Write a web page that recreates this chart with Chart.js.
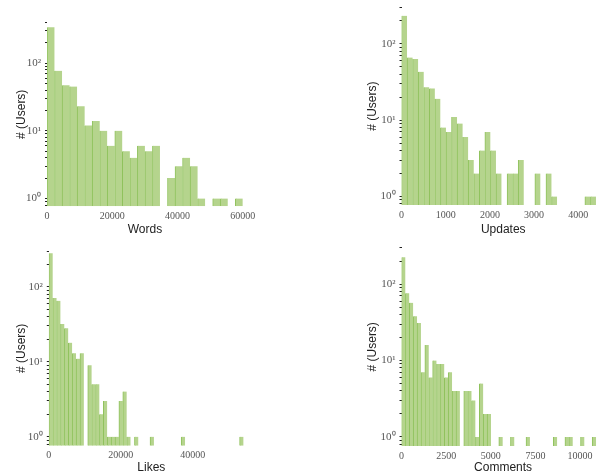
<!DOCTYPE html>
<html>
<head>
<meta charset="utf-8">
<script src="https://cdn.jsdelivr.net/npm/chart.js@4.4.1/dist/chart.umd.min.js"></script>
<style>
  body { margin: 0; background: #fff; width: 603px; height: 475px; overflow: hidden; position: relative; }
  canvas { position: absolute; }
</style>
</head>
<body>
<canvas id="cWords"></canvas>
<canvas id="cUpdates"></canvas>
<canvas id="cLikes"></canvas>
<canvas id="cComments"></canvas>
<script>
// conteos por bin (0 = bin vacio)
var words = [339, 77, 47, 45, 23, 12, 14, 10, 6, 10, 5, 4, 6, 5, 6, 0, 2, 3, 4, 3, 1, 0, 1, 1, 0, 1];
var updates = [232, 66, 63, 43, 27, 26, 19, 8, 7, 11, 9, 6, 3, 2, 4, 7, 4, 2, 0, 2, 2, 3, 0, 0, 2, 0, 2, 1, 0, 0, 0, 0, 0, 1, 1];
var likes = [279, 71, 65, 32, 28, 18, 13, 11, 13, 0, 9, 5, 5, 2, 3, 1, 1, 1, 3, 4, 1, 0, 1, 0, 0, 0, 1, 0, 0, 0,
             0, 0, 0, 0, 1, 0, 0, 0, 0, 0, 0, 0, 0, 0, 0, 0, 0, 0, 0, 1];
var comments = [224, 76, 57, 38, 31, 7, 16, 6, 10, 9, 9, 6, 7, 4, 4, 0, 4, 4, 3, 1, 5, 2, 2, 0, 0, 1, 0, 0, 1, 0,
                0, 0, 1, 0, 0, 0, 0, 0, 0, 1, 0, 0, 1, 1, 0, 0, 1, 0, 0, 1];

// ancho de bin
var wordsBin = 60000 / 26;
var updatesBin = 4400 / 35;
var likesBin = 54100 / 50;
var commentsBin = 10900 / 50;

// ticks
var wordsTicks = [0, 20000, 40000, 60000];
var updatesTicks = [0, 1000, 2000, 3000, 4000];
var likesTicks = [0, 20000, 40000];
var commentsTicks = [0, 2500, 5000, 7500, 10000];
var yTickValues = [1, 10, 100];
var yTickLabels = ['10⁰', '10¹', '10²'];

function histograma(id, counts, bin, xMax, xTicks, xTitle, g) {
  var canvas = document.getElementById(id);
  canvas.width = g.w;
  canvas.height = g.h;
  canvas.style.left = g.left + 'px';
  canvas.style.top = g.top + 'px';

  var puntos = counts.map(function (c, i) {
    return { x: (i + 0.5) * bin, y: c > 0 ? c : null };
  });

  // marcas menores del eje log
  var marcas = [];
  [0.1, 1, 10, 100].forEach(function (d) {
    for (var k = 1; k < 10; k++) {
      var v = Math.round(k * d * 10) / 10;
      if (v >= g.yMin && v <= g.yMax) marcas.push(v);
    }
  });

  new Chart(canvas.getContext('2d'), {
    type: 'bar',
    data: {
      datasets: [{
        data: puntos,
        backgroundColor: '#b5d48d',
        borderColor: '#8fc25c',
        borderWidth: { left: 1, right: 0, top: 0, bottom: 0 },
        borderSkipped: false,
        barPercentage: 1,
        categoryPercentage: 1
      }]
    },
    options: {
      responsive: false,
      animation: false,
      layout: { padding: { top: g.t - g.top, right: g.left + g.w - g.r, left: 0, bottom: 0 } },
      plugins: { legend: { display: false }, tooltip: { enabled: false } },
      scales: {
        x: {
          type: 'linear', min: 0, max: xMax, offset: false,
          grid: { display: false, drawTicks: false, offset: false },
          border: { display: false },
          afterBuildTicks: function (s) { s.ticks = xTicks.map(function (v) { return { value: v }; }); },
          afterFit: function (s) { s.height = g.top + g.h - g.b; },
          ticks: { padding: 4, color: '#555', autoSkip: false, maxRotation: 0,
                   font: { family: 'Liberation Serif', size: 10 },
                   callback: function (v) { return String(v); } },
          title: { display: true, text: xTitle, color: '#222',
                   font: { family: 'Liberation Sans', size: 12 },
                   padding: { top: 0, bottom: Math.max(0, g.top + g.h - g.xTitleY - 7.2) } }
        },
        y: {
          type: 'logarithmic', min: g.yMin, max: g.yMax,
          grid: { display: true, drawOnChartArea: false, drawTicks: true, tickLength: 2,
                  tickColor: '#222', tickWidth: 1 },
          border: { display: false },
          afterBuildTicks: function (s) { s.ticks = marcas.map(function (v) { return { value: v }; }); },
          afterFit: function (s) { s.width = g.l - g.left; },
          ticks: {
            autoSkip: false, padding: 4, color: '#555',
            font: { family: 'Liberation Serif', size: 11 },
            callback: function (v) {
              var i = yTickValues.indexOf(v);
              return i >= 0 ? yTickLabels[i] : '';
            }
          },
          title: { display: true, text: '# (Users)', color: '#222',
                   font: { family: 'Liberation Sans', size: 12 },
                   padding: { top: g.yTitleX - g.left - 7.2, bottom: 0 } }
        }
      }
    }
  });
}

histograma('cWords', words, wordsBin, 60000, wordsTicks, 'Words',
  { left: 0, top: 0, w: 300, h: 237, l: 47, t: 22.3, r: 242.8, b: 206.3,
    yMin: 0.767, yMax: 400, yTitleX: 21.5, xTitleY: 229.3 });
histograma('cUpdates', updates, updatesBin, 4604, updatesTicks, 'Updates',
  { left: 301, top: -10, w: 312, h: 247, l: 401.5, t: 7.3, r: 605, b: 205,
    yMin: 0.774, yMax: 300, yTitleX: 372.3, xTitleY: 229.3 });
histograma('cLikes', likes, likesBin, 57000, likesTicks, 'Likes',
  { left: 0, top: 237, w: 300, h: 238, l: 48.8, t: 251, r: 253.9, b: 445.7,
    yMin: 0.76, yMax: 300, yTitleX: 21.7, xTitleY: 468 });
histograma('cComments', comments, commentsBin, 11378, commentsTicks, 'Comments',
  { left: 301, top: 237, w: 312, h: 238, l: 401.5, t: 246.1, r: 604.6, b: 446,
    yMin: 0.76, yMax: 300, yTitleX: 373, xTitleY: 468 });
</script>
</body>
</html>
